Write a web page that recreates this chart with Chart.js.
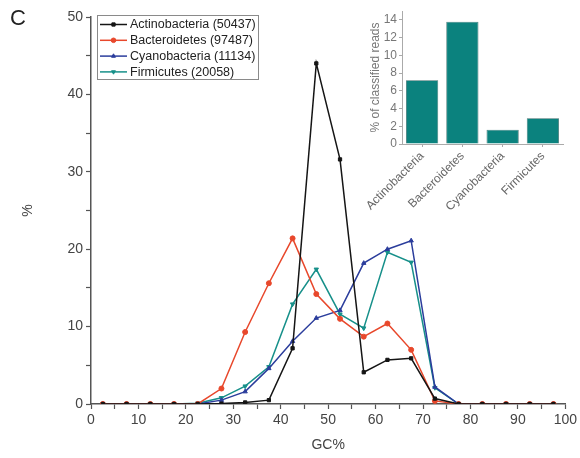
<!DOCTYPE html>
<html>
<head>
<meta charset="utf-8">
<script src="https://cdn.jsdelivr.net/npm/chart.js@4"></script>
<style>
  body { margin: 0; background: #fff; }
  #wrap { position: relative; width: 580px; height: 458px; }
  #main { position: absolute; left: 0; top: 0; }
  #inset { position: absolute; left: 330px; top: 0; }
  #panel { position: absolute; left: 10px; top: 5px; font: 22px "Liberation Sans", Arial, sans-serif; color: #222; }
</style>
</head>
<body>
<div id="wrap">
  <canvas id="main" width="580" height="458"></canvas>
  <canvas id="inset" width="250" height="222"></canvas>
  <div id="panel">C</div>
</div>
<script>
// GC content bins (bin centres)
const gcBins = [2.5, 7.5, 12.5, 17.5, 22.5, 27.5, 32.5, 37.5, 42.5, 47.5, 52.5, 57.5, 62.5, 67.5, 72.5, 77.5, 82.5, 87.5, 92.5, 97.5]

const actinobacteria = [0, 0, 0, 0, 0, 0.05, 0.2, 0.5, 7.2, 44.0, 31.6, 4.1, 5.7, 5.9, 0.7, 0, 0, 0, 0, 0]
const bacteroidetes  = [0, 0, 0, 0, 0, 2.0, 9.3, 15.6, 21.4, 14.2, 11.0, 8.7, 10.4, 7.0, 0.4, 0, 0, 0, 0, 0]
const cyanobacteria  = [0, 0, 0, 0, 0, 0.5, 1.6, 4.6, 8.1, 11.1, 12.1, 18.2, 20.0, 21.1, 2.2, 0, 0, 0, 0, 0]
const firmicutes     = [0, 0, 0, 0, 0.1, 0.8, 2.3, 4.8, 12.9, 17.4, 11.6, 9.8, 19.6, 18.3, 2.1, 0, 0, 0, 0, 0]

const seriesLabels = ["Actinobacteria (50437)", "Bacteroidetes (97487)", "Cyanobacteria (11134)", "Firmicutes (20058)"]

// inset: share of classified reads per phylum
const phyla = ["Actinobacteria", "Bacteroidetes", "Cyanobacteria", "Firmicutes"]
const classifiedPct = [7.2, 13.8, 1.6, 2.9]
const insetTicks = [0, 2, 4, 6, 8, 10, 12, 14]

const FONT = '"Liberation Sans", Arial, sans-serif'

const toPoints = (vals) => vals.map((v, i) => ({ x: gcBins[i], y: v }))

const mkSeries = (label, vals, color, style, rot) => ({
    label: label,
    data: toPoints(vals),
    borderColor: color,
    backgroundColor: color,
    borderWidth: 1.5,
    pointStyle: style,
    pointRotation: rot || 0,
    pointRadius: style == 'rect' ? 2.3 : 2.5,
    pointBorderWidth: 1,
    tension: 0
})

// boxed legend in the upper left of the plot, line sample with marker
const boxLegend = {
    id: 'boxLegend',
    afterDraw(chart) {
        const ctx = chart.ctx
        const x0 = chart.chartArea.left + 6, y0 = 15
        const w = 161, h = 64
        ctx.save()
        ctx.strokeStyle = '#8a8a8a'
        ctx.lineWidth = 1
        ctx.strokeRect(x0 + 0.5, y0 + 0.5, w, h)
        ctx.font = '12.5px ' + FONT
        ctx.textBaseline = 'middle'
        chart.data.datasets.forEach((ds, i) => {
            const y = y0 + 9.5 + i * 15.8
            ctx.strokeStyle = ds.borderColor
            ctx.fillStyle = ds.borderColor
            ctx.lineWidth = 1.5
            ctx.beginPath()
            ctx.moveTo(x0 + 3, y)
            ctx.lineTo(x0 + 30, y)
            ctx.stroke()
            ctx.lineWidth = 1
            Chart.helpers.drawPoint(ctx, {
                pointStyle: ds.pointStyle, rotation: ds.pointRotation, radius: 2.3, borderWidth: 1
            }, x0 + 16.5, y)
            ctx.fillStyle = '#222'
            ctx.fillText(ds.label, x0 + 33, y + 0.5)
        })
        ctx.restore()
    }
}

new Chart(document.getElementById('main'), {
    type: 'line',
    data: {
        datasets: [
            mkSeries(seriesLabels[0], actinobacteria, '#151515', 'rect'),
            mkSeries(seriesLabels[1], bacteroidetes, '#e8482c', 'circle'),
            mkSeries(seriesLabels[2], cyanobacteria, '#2b3d9c', 'triangle'),
            mkSeries(seriesLabels[3], firmicutes, '#17908a', 'triangle', 180)
        ]
    },
    options: {
        responsive: false,
        animation: false,
        layout: { padding: { left: 20, right: 13, top: 17, bottom: 2 } },
        plugins: { legend: { display: false }, tooltip: { enabled: false } },
        scales: {
            x: {
                type: 'linear', min: 0, max: 100,
                border: { display: true, color: '#555', width: 1.5 },
                grid: { drawOnChartArea: false, color: '#555', tickLength: 5, tickWidth: 1.2 },
                ticks: {
                    stepSize: 5, autoSkip: false, maxRotation: 0, padding: 3,
                    color: '#444', font: { family: FONT, size: 14 },
                    callback: (v) => v % 10 == 0 ? v : ''
                },
                title: { display: true, text: 'GC%', color: '#444', font: { family: FONT, size: 14 }, padding: { top: 6, bottom: 2 } },
                afterFit: (s) => { s.height = 52 }
            },
            y: {
                min: 0, max: 50,
                border: { display: true, color: '#555', width: 1.5 },
                grid: { drawOnChartArea: false, color: '#555', tickLength: 5, tickWidth: 1.2 },
                ticks: {
                    stepSize: 5, autoSkip: false, padding: 3,
                    color: '#444', font: { family: FONT, size: 14 },
                    callback: (v) => v % 10 == 0 ? v : ''
                },
                title: { display: true, text: '%', color: '#444', font: { family: FONT, size: 14 }, padding: { top: 0, bottom: 0 } },
                afterFit: (s) => { s.width = 71 }
            }
        }
    },
    plugins: [boxLegend]
})

new Chart(document.getElementById('inset'), {
    type: 'bar',
    data: {
        labels: phyla,
        datasets: [{
            data: classifiedPct,
            backgroundColor: '#0b827e',
            borderColor: '#3a6e6c',
            borderWidth: 0.8,
            barPercentage: 0.8,
            categoryPercentage: 1
        }]
    },
    options: {
        responsive: false,
        animation: false,
        layout: { padding: { left: 38, right: 17, top: 11, bottom: 0 } },
        plugins: { legend: { display: false }, tooltip: { enabled: false } },
        scales: {
            x: {
                border: { display: true, color: '#aaa', width: 1 },
                grid: { drawOnChartArea: false, offset: false, color: '#aaa', tickLength: 3 },
                ticks: {
                    minRotation: 45, maxRotation: 45, padding: 2,
                    color: '#666', font: { family: FONT, size: 12 }
                },
                afterFit: (s) => { s.height = 78 }
            },
            y: {
                min: 0, max: 15,
                border: { display: true, color: '#aaa', width: 1 },
                grid: { drawOnChartArea: false, color: '#aaa', tickLength: 3 },
                afterBuildTicks: (s) => { s.ticks = insetTicks.map(v => ({ value: v })) },
                ticks: {
                    padding: 2,
                    color: '#777', font: { family: FONT, size: 12 }
                },
                title: { display: true, text: '% of classified reads', color: '#777', font: { family: FONT, size: 12 }, padding: { top: 0, bottom: 2 } },
                afterFit: (s) => { s.width = 34 }
            }
        }
    }
})
</script>
</body>
</html>
